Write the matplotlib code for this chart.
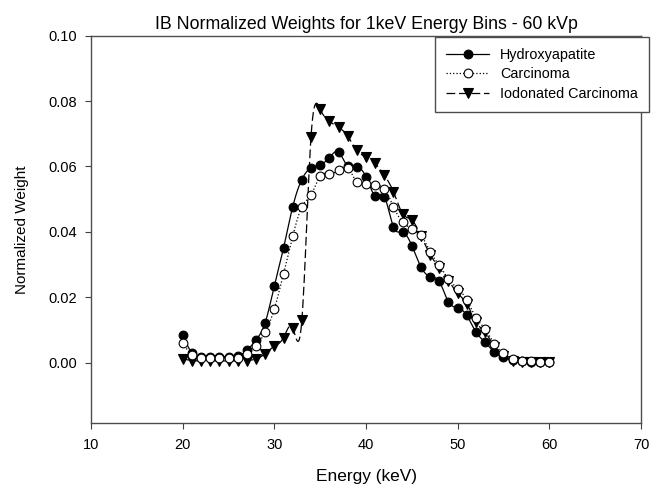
import numpy as np
import matplotlib
matplotlib.use("Agg")
import matplotlib.pyplot as plt
from matplotlib.ticker import FormatStrFormatter

plt.rcParams["font.family"] = ["Liberation Sans", "DejaVu Sans"]

# ── Data (1 keV bins) ──
energia = [20, 21, 22, 23, 24, 25, 26, 27, 28, 29,
           30, 31, 32, 33, 34, 35, 36, 37, 38, 39,
           40, 41, 42, 43, 44, 45, 46, 47, 48, 49,
           50, 51, 52, 53, 54, 55, 56, 57, 58, 59, 60]

hidroxiapatita = [0.0085, 0.0030, 0.0018, 0.0017, 0.0016, 0.0016, 0.0020, 0.0037, 0.0069, 0.0122,
                  0.0235, 0.0350, 0.0476, 0.0560, 0.0596, 0.0605, 0.0627, 0.0644, 0.0600, 0.0598,
                  0.0568, 0.0511, 0.0508, 0.0414, 0.0399, 0.0358, 0.0292, 0.0263, 0.0248, 0.0185,
                  0.0168, 0.0144, 0.0093, 0.0062, 0.0032, 0.0016, 0.0008, 0.0004, 0.0003, 0.0002, 0.0002]

carcinoma = [0.0060, 0.0024, 0.0015, 0.0014, 0.0013, 0.0013, 0.0015, 0.0027, 0.0052, 0.0093,
             0.0164, 0.0272, 0.0386, 0.0476, 0.0513, 0.0570, 0.0578, 0.0588, 0.0596, 0.0552,
             0.0547, 0.0542, 0.0532, 0.0476, 0.0430, 0.0410, 0.0390, 0.0339, 0.0297, 0.0256,
             0.0226, 0.0192, 0.0137, 0.0103, 0.0057, 0.0028, 0.0012, 0.0006, 0.0004, 0.0003, 0.0003]

carcinoma_yodo = [0.0012, 0.0006, 0.0005, 0.0005, 0.0005, 0.0005, 0.0005, 0.0006, 0.0011, 0.0027,
                  0.0050, 0.0076, 0.0106, 0.0129, 0.0690, 0.0775, 0.0738, 0.0720, 0.0693, 0.0649,
                  0.0629, 0.0609, 0.0573, 0.0522, 0.0455, 0.0436, 0.0387, 0.0330, 0.0290, 0.0251,
                  0.0212, 0.0180, 0.0123, 0.0093, 0.0049, 0.0021, 0.0006, 0.0002, 0.0002, 0.0002, 0.0002]

etiquetas = ["Hydroxyapatite", "Carcinoma", "Iodonated Carcinoma"]


def curva_spline(x, y, pasos=12):
    # natural cubic spline through the points (the original uses spline lines)
    x = np.asarray(x, float)
    y = np.asarray(y, float)
    n = len(x)
    h = np.diff(x)
    A = np.zeros((n, n))
    r = np.zeros(n)
    A[0, 0] = A[-1, -1] = 1
    for i in range(1, n - 1):
        A[i, i - 1] = h[i - 1]
        A[i, i] = 2 * (h[i - 1] + h[i])
        A[i, i + 1] = h[i]
        r[i] = 6 * ((y[i + 1] - y[i]) / h[i] - (y[i] - y[i - 1]) / h[i - 1])
    M = np.linalg.solve(A, r)
    xs, ys = [], []
    for i in range(n - 1):
        t = np.linspace(x[i], x[i + 1], pasos, endpoint=(i == n - 2))
        a = x[i + 1] - t
        b = t - x[i]
        s = ((M[i] * a ** 3 + M[i + 1] * b ** 3) / (6 * h[i])
             + (y[i] / h[i] - M[i] * h[i] / 6) * a
             + (y[i + 1] / h[i] - M[i + 1] * h[i] / 6) * b)
        xs.append(t)
        ys.append(s)
    return np.concatenate(xs), np.concatenate(ys)


fig = plt.figure(figsize=(6.52, 4.87), dpi=100)
ax = fig.add_axes([0.1396, 0.1314, 0.8435, 0.7953])

# valores, estilo de linea, marcador, relleno, tamaño, zorder
series = [
    (hidroxiapatita, "-", "o", "black", 6.3, 3),
    (carcinoma, ":", "o", "white", 6.3, 4),
    (carcinoma_yodo, (0, (7, 3)), "v", "black", 7.5, 2),
]

handles = []
for valores, estilo, marcador, relleno, tam, z in series:
    xs, ys = curva_spline(energia, valores)
    linea, = ax.plot(xs, ys, color="black", linestyle=estilo, linewidth=0.9, zorder=z)
    puntos, = ax.plot(energia, valores, linestyle="none", marker=marcador,
                      markersize=tam, markerfacecolor=relleno,
                      markeredgecolor="black", markeredgewidth=0.8, zorder=z)
    handles.append((linea, puntos))

ax.set_xlim(10, 70)
ax.set_ylim(-0.0185, 0.10)
ax.set_xticks([10, 20, 30, 40, 50, 60, 70])
ax.set_yticks([0.0, 0.02, 0.04, 0.06, 0.08, 0.10])
ax.yaxis.set_major_formatter(FormatStrFormatter("%.2f"))
ax.tick_params(axis="both", direction="out", length=4, width=0.8,
               labelsize=10.5, color="0.25")
ax.tick_params(axis="x", pad=7)
ax.tick_params(axis="y", pad=6)
for sp in ax.spines.values():
    sp.set_color("0.3")
    sp.set_linewidth(1.0)

ax.set_title("IB Normalized Weights for 1keV Energy Bins - 60 kVp", fontsize=12.8, pad=5)
ax.set_xlabel("Energy (keV)", fontsize=12.4, labelpad=12)
ax.set_ylabel("Normalized Weight", fontsize=11, labelpad=14)

leg = ax.legend(handles, etiquetas, loc="upper left",
                bbox_to_anchor=(435 / 652, 1 - 37 / 487), bbox_transform=fig.transFigure,
                fontsize=10.4, frameon=True, fancybox=False, borderaxespad=0,
                handlelength=3.0, handletextpad=0.75, labelspacing=0.38,
                borderpad=0.75, numpoints=1)
leg.get_frame().set_edgecolor("0.3")
leg.get_frame().set_linewidth(1.0)
leg.get_frame().set_alpha(1)

fig.savefig("out.png", dpi=100)
